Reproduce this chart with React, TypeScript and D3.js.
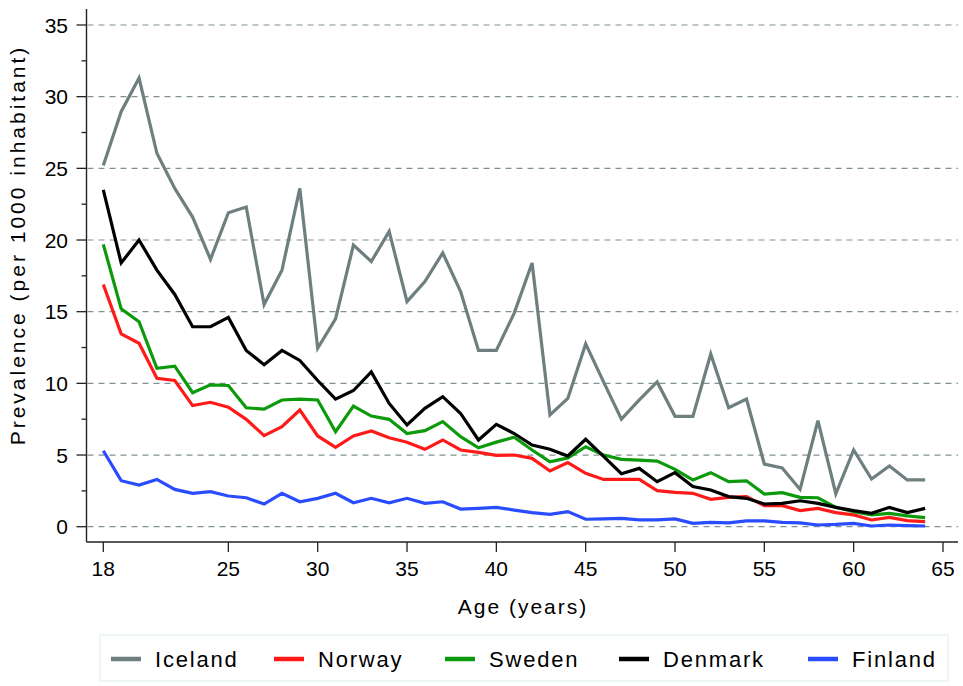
import React from 'react'
import * as d3 from 'd3'

const ages = d3.range(18, 65)

const iceland = [25.2, 28.95, 31.3, 26.05, 23.6, 21.6, 18.65, 21.9, 22.3, 15.5, 17.9, 23.6, 12.45, 14.5, 19.65, 18.5, 20.6, 15.7, 17.1, 19.1, 16.4, 12.3, 12.3, 14.9, 18.4, 7.8, 8.95, 12.75, 10.1, 7.5, 8.85, 10.1, 7.7, 7.7, 12.05, 8.3, 8.9, 4.37, 4.1, 2.6, 7.4, 2.3, 5.35, 3.33, 4.23, 3.26, 3.26]
const norway = [16.9, 13.45, 12.8, 10.35, 10.2, 8.45, 8.68, 8.33, 7.49, 6.35, 6.98, 8.14, 6.33, 5.54, 6.33, 6.68, 6.2, 5.89, 5.4, 6.05, 5.35, 5.19, 4.98, 5.0, 4.77, 3.89, 4.47, 3.72, 3.3, 3.3, 3.3, 2.52, 2.4, 2.33, 1.91, 2.05, 2.1, 1.47, 1.47, 1.12, 1.28, 0.98, 0.82, 0.47, 0.65, 0.42, 0.35]
const sweden = [19.7, 15.2, 14.3, 11.05, 11.2, 9.35, 9.9, 9.85, 8.3, 8.2, 8.84, 8.9, 8.84, 6.63, 8.42, 7.72, 7.49, 6.5, 6.7, 7.33, 6.28, 5.5, 5.9, 6.24, 5.35, 4.53, 4.8, 5.58, 5.0, 4.7, 4.65, 4.58, 4.0, 3.26, 3.77, 3.14, 3.2, 2.28, 2.37, 2.05, 2.02, 1.35, 1.05, 0.82, 0.93, 0.75, 0.63]
const denmark = [23.5, 18.4, 20.0, 17.9, 16.2, 13.95, 13.95, 14.6, 12.3, 11.3, 12.3, 11.6, 10.2, 8.9, 9.5, 10.8, 8.6, 7.1, 8.26, 9.07, 7.9, 6.05, 7.14, 6.5, 5.7, 5.4, 4.93, 6.1, 4.9, 3.7, 4.07, 3.14, 3.77, 2.8, 2.56, 2.1, 1.98, 1.58, 1.63, 1.81, 1.63, 1.35, 1.12, 0.93, 1.35, 0.98, 1.28]
const finland = [5.3, 3.21, 2.91, 3.3, 2.6, 2.33, 2.44, 2.14, 2.02, 1.58, 2.33, 1.74, 1.98, 2.33, 1.67, 1.98, 1.67, 1.98, 1.63, 1.74, 1.23, 1.28, 1.35, 1.16, 0.98, 0.86, 1.05, 0.52, 0.54, 0.58, 0.47, 0.47, 0.54, 0.23, 0.3, 0.27, 0.4, 0.4, 0.3, 0.27, 0.12, 0.16, 0.23, 0.05, 0.12, 0.08, 0.05]

const countries = ['Iceland', 'Norway', 'Sweden', 'Denmark', 'Finland']
const colors = ['#6d7f7f', '#ff1a1a', '#0c9a0c', '#000000', '#2a4cff']
const seriesValues = [iceland, norway, sweden, denmark, finland]
const legendX = [111, 274, 445, 619, 808]

const xTicks = [18, 25, 30, 35, 40, 45, 50, 55, 60, 65]
const yTicks = [0, 5, 10, 15, 20, 25, 30, 35]
const yMinor = [2.5, 7.5, 12.5, 17.5, 22.5, 27.5, 32.5]

const font = '"Liberation Sans", Arial, Helvetica, sans-serif'

export default function App() {
  const x = d3.scaleLinear().domain([18, 65]).range([103.3, 943])
  const y = d3.scaleLinear().domain([0, 35]).range([526.7, 25])
  const line = d3.line<number>().x((d, i) => x(ages[i])).y(d => y(d))

  const axisY = 542
  const axisX = 86.5

  return <svg width={963} height={686} style={{position: 'absolute', left: 0, top: 0, background: 'white'}}>
    {yTicks.map(t => <line key={'g' + t} x1={axisX + 1} x2={958} y1={y(t)} y2={y(t)}
      stroke="#7f9191" strokeWidth={1.2} strokeDasharray="6 5" />)}

    {seriesValues.map((vals, i) => <path key={countries[i]} d={line(vals) || ''} fill="none"
      stroke={colors[i]} strokeWidth={3.2} strokeLinejoin="miter" />)}

    <line x1={axisX} x2={axisX} y1={9} y2={axisY} stroke="#222" strokeWidth={1.4} />
    <line x1={axisX} x2={958} y1={axisY} y2={axisY} stroke="#222" strokeWidth={1.4} />

    {yTicks.map(t => <g key={'y' + t}>
      <line x1={axisX - 10} x2={axisX} y1={y(t)} y2={y(t)} stroke="#222" strokeWidth={1.3} />
      <text x={68} y={y(t)} dy="0.36em" textAnchor="end" fontFamily={font} fontSize={21}>{t}</text>
    </g>)}
    {yMinor.map(t => <line key={'m' + t} x1={axisX - 5} x2={axisX} y1={y(t)} y2={y(t)} stroke="#222" strokeWidth={1.3} />)}

    {xTicks.map(t => <g key={'x' + t}>
      <line x1={x(t)} x2={x(t)} y1={axisY} y2={axisY + 10} stroke="#222" strokeWidth={1.3} />
      <text x={x(t)} y={568} dy="0.36em" textAnchor="middle" fontFamily={font} fontSize={21}>{t}</text>
    </g>)}

    <text x={523} y={606} dy="0.36em" textAnchor="middle" fontFamily={font} fontSize={21} letterSpacing={2}>Age (years)</text>
    <text transform="translate(17,245) rotate(-90)" dy="0.36em" textAnchor="middle" fontFamily={font} fontSize={21} letterSpacing={3}>Prevalence (per 1000 inhabitant)</text>

    <rect x={100} y={635} width={848} height={46} fill="white" stroke="#e6f2f0" strokeWidth={1.4} />
    {countries.map((c, i) => <g key={'l' + c}>
      <line x1={legendX[i]} x2={legendX[i] + 30} y1={659} y2={659} stroke={colors[i]} strokeWidth={4.5} />
      <text x={legendX[i] + 44} y={659} dy="0.36em" fontFamily={font} fontSize={22} letterSpacing={1.8}>{c}</text>
    </g>)}
  </svg>
}
